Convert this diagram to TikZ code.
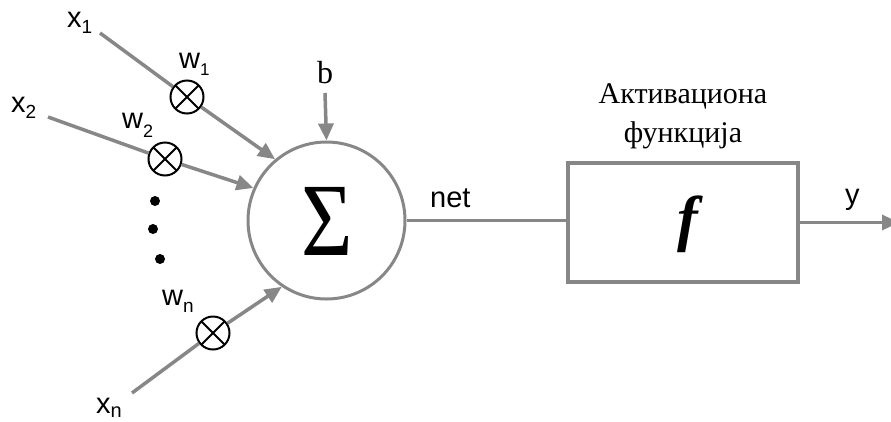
\documentclass[tikz,border=0pt]{standalone}
\usepackage{fontspec}
\setmainfont{Liberation Serif}
\newfontfamily\labelfont{Liberation Sans}
\usetikzlibrary{arrows.meta}

\definecolor{linegray}{RGB}{135,135,135}

% letter with a lowered subscript: #1 letter, #2 subscript, #3 subscript size, #4 drop
\newcommand{\sublabel}[4]{#1\raisebox{-#4pt}{\fontsize{#3}{#3}\selectfont #2}}

\tikzset{
  wire/.style={draw=linegray, line width=3.5pt},
  arrowwire/.style={wire, -{Triangle[length=17pt,width=15pt]}},
  sumnode/.style={circle, draw=linegray, line width=3pt, minimum size=157pt, inner sep=0pt},
  actbox/.style={rectangle, draw=linegray, line width=3.5pt, minimum width=230pt, minimum height=119pt, inner sep=0pt},
  mult/.style={circle, draw=black, line width=2pt, fill=white, minimum size=33pt, inner sep=0pt,
    path picture={
      \draw[black, line width=2pt]
        (path picture bounding box.north west) -- (path picture bounding box.south east)
        (path picture bounding box.north east) -- (path picture bounding box.south west);
    }},
  sanslabel/.style={font=\labelfont\fontsize{29}{29}\selectfont, inner sep=0pt, anchor=base west},
  dotmark/.style={circle, fill=black, minimum size=10pt, inner sep=0pt},
}

\begin{document}
\begin{tikzpicture}[x=1pt, y=-1pt]
  \useasboundingbox (0,0) rectangle (891,421);

  % summation unit and activation block
  \node[sumnode] (sum) at (326.5,220.5) {};
  \node[inner sep=0pt, anchor=base, font=\fontsize{104}{104}\selectfont, xscale=0.85] (sigma) at (327,255) {Σ};
  \node[actbox] (act) at (683,222.5) {};
  \node[inner sep=0pt, anchor=base, font=\fontsize{62}{62}\selectfont\bfseries\itshape] (fn) at (688,239) {f};
  \node[inner sep=0pt, anchor=base, font=\fontsize{30}{30}\selectfont] (acttop) at (683,103) {Активациона};
  \node[inner sep=0pt, anchor=base, font=\fontsize{30}{30}\selectfont] (actbot) at (683,142) {функција};

  % weights
  \node[mult] (m1) at (187,97) {};
  \node[mult] (m2) at (165,159) {};
  \node[mult] (mn) at (213,333) {};

  % dots for the omitted inputs
  \node[dotmark] (d1) at (155,201) {};
  \node[dotmark] (d2) at (153,229) {};
  \node[dotmark] (d3) at (160,259) {};

  % input, bias and output ends
  \coordinate (x1s) at (100,33);
  \coordinate (x2s) at (48,117);
  \coordinate (xns) at (132,393);
  \coordinate (bs) at (325,93);
  \coordinate (yout) at (899,222.5);

  % labels
  \node[sanslabel] (lx1) at (67,27) {\sublabel{x}{1}{19}{6}};
  \node[sanslabel] (lx2) at (11,112) {\sublabel{x}{2}{19}{6}};
  \node[sanslabel] (lxn) at (96,413) {\sublabel{x}{n}{20}{4}};
  \node[sanslabel] (lw1) at (179,68) {\sublabel{w}{1}{17}{7}};
  \node[sanslabel] (lw2) at (122,128) {\sublabel{w}{2}{18}{9}};
  \node[sanslabel] (lwn) at (162,305) {\sublabel{w}{n}{19}{7}};
  \node[inner sep=0pt, anchor=base, font=\fontsize{32}{32}\selectfont] (lb) at (325,83) {b};
  \node[sanslabel, font=\labelfont\fontsize{29}{29}\selectfont] (lnet) at (430,207) {net};
  \node[sanslabel, font=\labelfont\fontsize{29}{29}\selectfont] (ly) at (845,204) {y};

  % connections
  \draw[wire] (x1s) -- (m1);
  \draw[arrowwire] (m1) -- (sum.130);
  \draw[wire] (x2s) -- (m2);
  \draw[arrowwire] (m2) -- (sum.156);
  \draw[wire] (xns) -- (mn);
  \draw[arrowwire] (mn) -- (sum.236);
  \draw[arrowwire] (bs) -- (sum.90);
  \draw[wire] (sum.east) -- (sum.east -| act.west);
  \draw[arrowwire] (act.east) -- (yout);
\end{tikzpicture}
\end{document}
